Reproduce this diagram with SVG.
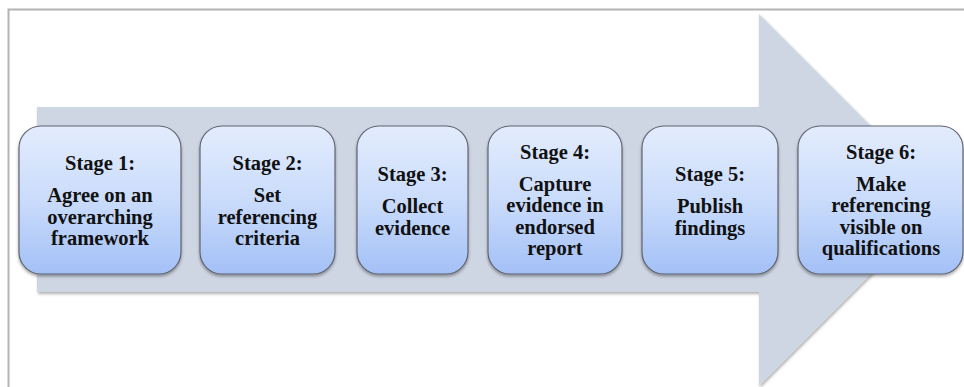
<svg xmlns="http://www.w3.org/2000/svg" width="964" height="387" viewBox="0 0 964 387">
<style>
.box{fill:url(#g);stroke:#5f6470;stroke-width:1.2;filter:url(#sh)}
.t{font-weight:700;font-size:20.5px;fill:#111;text-anchor:middle}
</style>
<defs>
<linearGradient id="g" x1="0" y1="0" x2="0" y2="1">
<stop offset="0" stop-color="#E3ECFD"/>
<stop offset="0.5" stop-color="#CADCFB"/>
<stop offset="1" stop-color="#A3C0F6"/>
</linearGradient>
<filter id="sh" x="-10%" y="-10%" width="120%" height="125%">
<feDropShadow dx="0" dy="2" stdDeviation="1.5" flood-color="#000" flood-opacity="0.35"/>
</filter>
<filter id="ash" x="-5%" y="-5%" width="110%" height="115%">
<feDropShadow dx="1" dy="2" stdDeviation="1.5" flood-color="#000" flood-opacity="0.3"/>
</filter>
</defs>
<rect x="0" y="0" width="964" height="387" fill="#fff"/>
<path d="M8.5 400 V9.5 H970" fill="none" stroke="#b3b3b3" stroke-width="2"/>
<g id="arrow">
<path d="M37 107 H759 V14 L945 200 L759 386 V292 H37 Z" fill="#CFD6E3" filter="url(#ash)"/>
</g>
<g font-family="Liberation Serif, Times New Roman, Tinos, Noto Serif, FreeSerif, DejaVu Serif, serif">
<g id="stage1">
<rect class="box" x="19" y="126" width="162" height="148" rx="22"/>
<text class="t" x="100" y="170">Stage 1:</text>
<text class="t" x="100" y="202">Agree on an</text>
<text class="t" x="100" y="223.5">overarching</text>
<text class="t" x="100" y="245">framework</text>
</g>
<g id="stage2">
<rect class="box" x="200" y="126" width="135" height="148" rx="22"/>
<text class="t" x="267.5" y="170">Stage 2:</text>
<text class="t" x="267.5" y="202">Set</text>
<text class="t" x="267.5" y="223.5">referencing</text>
<text class="t" x="267.5" y="245">criteria</text>
</g>
<g id="stage3">
<rect class="box" x="357" y="126" width="111" height="148" rx="22"/>
<text class="t" x="412.5" y="181">Stage 3:</text>
<text class="t" x="412.5" y="213">Collect</text>
<text class="t" x="412.5" y="234.5">evidence</text>
</g>
<g id="stage4">
<rect class="box" x="488" y="126" width="134" height="148" rx="22"/>
<text class="t" x="555" y="158.5">Stage 4:</text>
<text class="t" x="555" y="190.5">Capture</text>
<text class="t" x="555" y="212">evidence in</text>
<text class="t" x="555" y="233.5">endorsed</text>
<text class="t" x="555" y="255">report</text>
</g>
<g id="stage5">
<rect class="box" x="642" y="126" width="136" height="148" rx="22"/>
<text class="t" x="710" y="181">Stage 5:</text>
<text class="t" x="710" y="213">Publish</text>
<text class="t" x="710" y="234.5">findings</text>
</g>
<g id="stage6">
<rect class="box" x="798" y="126" width="165" height="148" rx="22"/>
<text class="t" x="881" y="158.5">Stage 6:</text>
<text class="t" x="881" y="190.5">Make</text>
<text class="t" x="881" y="212">referencing</text>
<text class="t" x="881" y="233.5">visible on</text>
<text class="t" x="881" y="255">qualifications</text>
</g>
</g>
</svg>
